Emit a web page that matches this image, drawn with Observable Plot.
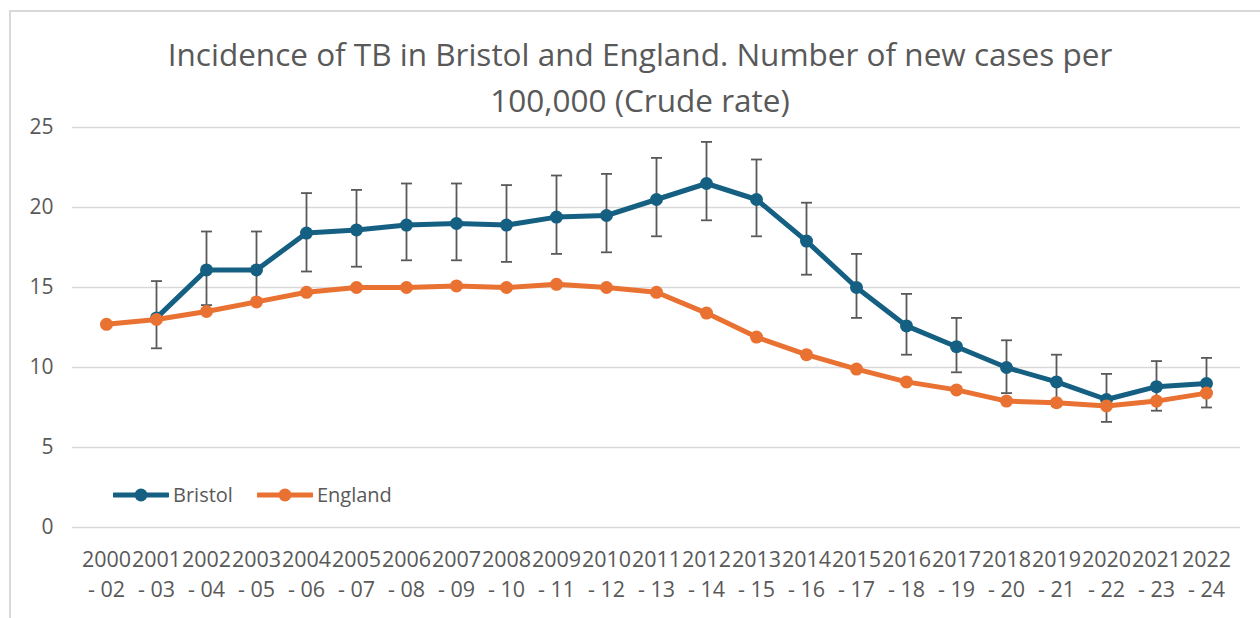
<!DOCTYPE html>
<html>
<head>
<meta charset="utf-8">
<script src="https://cdn.jsdelivr.net/npm/d3@7"></script>
<script src="https://cdn.jsdelivr.net/npm/@observablehq/plot@0.6"></script>
<style>
  html, body { margin: 0; padding: 0; background: #fff; }
  #wrap { position: relative; width: 1260px; height: 618px; overflow: hidden; font-family: "Open Sans", sans-serif; color: #595959; }
  #border { position: absolute; left: 9px; top: 10px; width: 1300px; height: 700px; border: 2px solid #D9D9D9; box-sizing: border-box; }
  #title { position: absolute; left: 10px; width: 1260px; top: 31px; text-align: center; font-size: 31.5px; line-height: 46px; color: #595959; }
  #legend { position: absolute; left: 113px; top: 481px; display: flex; align-items: center; font-size: 20px; color: #595959; }
  #legend .item { display: flex; align-items: center; margin-right: 24px; }
  #legend svg { margin-right: 4px; }
  #chart { position: absolute; left: 0; top: 0; }
</style>
</head>
<body>
<div id="wrap">
  <div id="chart"></div>
  <div id="border"></div>
  <div id="title">Incidence of TB in Bristol and England. Number of new cases per<br>100,000 (Crude rate)</div>
  <div id="legend"></div>
</div>
<script>
const periods = ["2000-02","2001-03","2002-04","2003-05","2004-06","2005-07","2006-08","2007-09","2008-10","2009-11","2010-12","2011-13","2012-14","2013-15","2014-16","2015-17","2016-18","2017-19","2018-20","2019-21","2020-22","2021-23","2022-24"];
const englandRate = [12.7, 13.0, 13.5, 14.1, 14.7, 15.0, 15.0, 15.1, 15.0, 15.2, 15.0, 14.7, 13.4, 11.9, 10.8, 9.9, 9.1, 8.6, 7.9, 7.8, 7.6, 7.9, 8.4];
const bristolRate = [null, 13.1, 16.1, 16.1, 18.4, 18.6, 18.9, 19.0, 18.9, 19.4, 19.5, 20.5, 21.5, 20.5, 17.9, 15.0, 12.6, 11.3, 10.0, 9.1, 8.0, 8.8, 9.0];
const bristolUpper = [null, 15.4, 18.5, 18.5, 20.9, 21.1, 21.5, 21.5, 21.4, 22.0, 22.1, 23.1, 24.1, 23.0, 20.3, 17.1, 14.6, 13.1, 11.7, 10.8, 9.6, 10.4, 10.6];
const bristolLower = [null, 11.2, 13.9, 14.0, 16.0, 16.3, 16.7, 16.7, 16.6, 17.1, 17.2, 18.2, 19.2, 18.2, 15.8, 13.1, 10.8, 9.7, 8.4, 7.6, 6.6, 7.3, 7.5];
const yTicks = [0, 5, 10, 15, 20, 25];
const seriesNames = ["Bristol", "England"];
const seriesColors = ["#156082", "#E97132"];

const bristol = periods.map((p, i) => ({period: p, rate: bristolRate[i], lo: bristolLower[i], hi: bristolUpper[i]})).filter(d => d.rate != null);
const england = periods.map((p, i) => ({period: p, rate: englandRate[i]}));

const capSymbol = { draw(ctx, size) { const w = 5.5; ctx.moveTo(-w, 0); ctx.lineTo(w, 0); } };

const chart = Plot.plot({
  width: 1260,
  height: 618,
  marginTop: 127,
  marginBottom: 91,
  marginLeft: 72,
  marginRight: 20,
  style: { fontFamily: "Open Sans, sans-serif", background: "transparent", color: "#595959" },
  x: { type: "point", domain: periods, padding: 0.5 },
  y: { domain: [0, 25] },
  marks: [
    Plot.gridY(yTicks, { stroke: "#D9D9D9", strokeOpacity: 1, strokeWidth: 1.6 }),
    Plot.axisY(yTicks, { tickSize: 0, tickPadding: 19, fontSize: 21, fill: "#595959", label: null }),
    Plot.axisX({ tickSize: 0, tickPadding: 18, fontSize: 21.5, fill: "#595959", label: null, lineHeight: 1.4,
      tickFormat: d => d.slice(0, 4) + "\n- " + d.slice(5) }),
    Plot.ruleX(bristol, { x: "period", y1: "lo", y2: "hi", stroke: "#595959", strokeWidth: 1.8 }),
    Plot.dot(bristol, { x: "period", y: "lo", symbol: capSymbol, r: 5, stroke: "#595959", strokeWidth: 1.8, fill: "none" }),
    Plot.dot(bristol, { x: "period", y: "hi", symbol: capSymbol, r: 5, stroke: "#595959", strokeWidth: 1.8, fill: "none" }),
    Plot.line(bristol, { x: "period", y: "rate", stroke: seriesColors[0], strokeWidth: 5 }),
    Plot.dot(bristol, { x: "period", y: "rate", r: 6.5, fill: seriesColors[0] }),
    Plot.line(england, { x: "period", y: "rate", stroke: seriesColors[1], strokeWidth: 5 }),
    Plot.dot(england, { x: "period", y: "rate", r: 6.5, fill: seriesColors[1] })
  ]
});
document.getElementById("chart").appendChild(chart);

const legend = document.getElementById("legend");
seriesNames.forEach((name, i) => {
  const item = document.createElement("div");
  item.className = "item";
  item.innerHTML = `<svg width="56" height="16"><line x1="1" y1="8" x2="55" y2="8" stroke="${seriesColors[i]}" stroke-width="5" stroke-linecap="round"/><circle cx="28" cy="8" r="6.5" fill="${seriesColors[i]}"/></svg><span>${name}</span>`;
  legend.appendChild(item);
});
</script>
</body>
</html>
